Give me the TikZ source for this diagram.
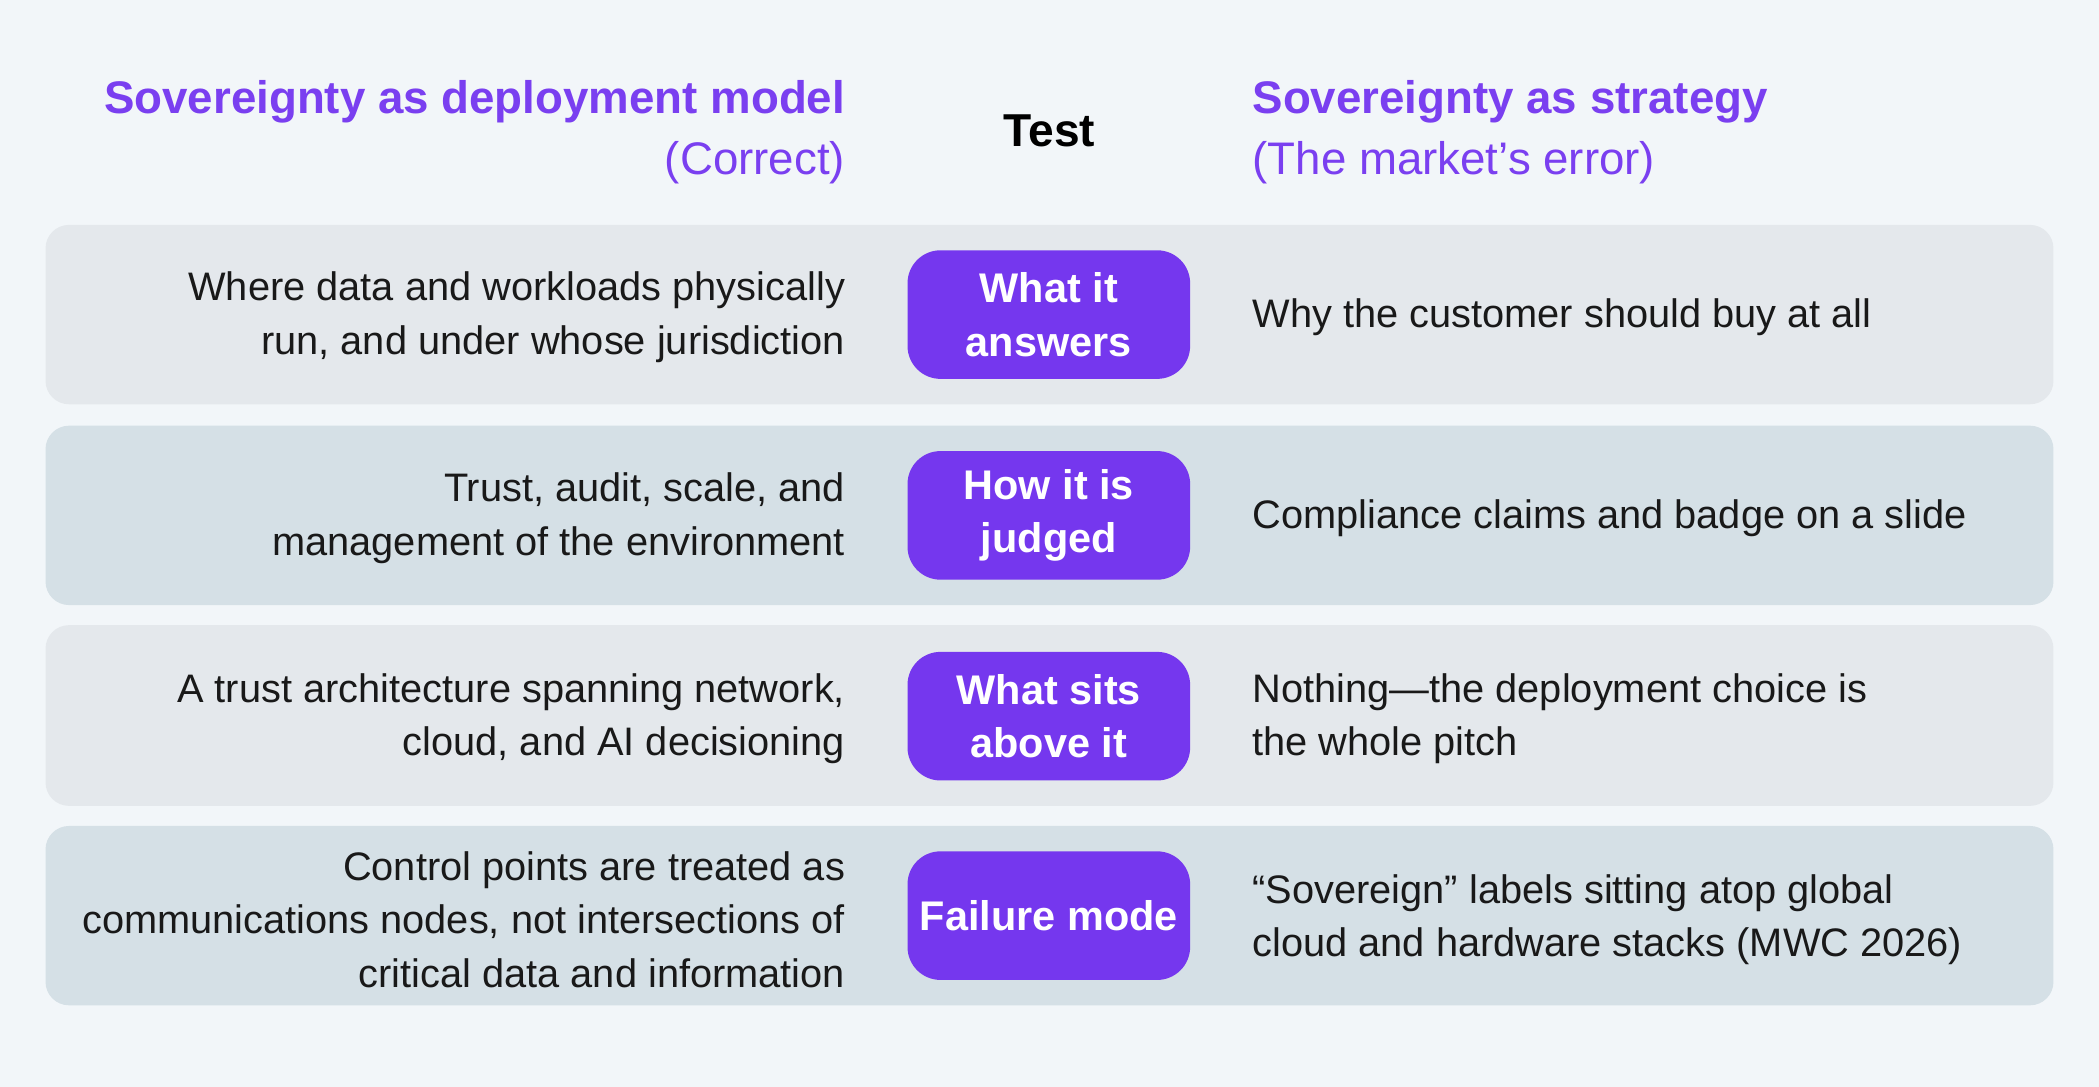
\documentclass[tikz,border=0pt]{standalone}
\usepackage{fontspec}
\setmainfont{Liberation Sans}
\definecolor{pagebg}{HTML}{F2F6F9}
\definecolor{rowlight}{HTML}{E4E8EC}
\definecolor{rowdark}{HTML}{D5E0E6}
\definecolor{violet}{HTML}{7537EE}
\definecolor{headviolet}{HTML}{7A3FF0}
\tikzset{
  row/.style={rounded corners=5pt},
  testbox/.style={fill=violet, rounded corners=7pt, minimum width=2.11cm, minimum height=0.96cm,
    text=white, font=\fontsize{8.8}{11.4}\selectfont\bfseries, align=center},
  lefttxt/.style={anchor=east, align=right, font=\fontsize{8.45}{11.4}\selectfont, text=black!90},
  righttxt/.style={anchor=west, align=left, font=\fontsize{8.45}{11.4}\selectfont, text=black!90},
  head/.style={font=\fontsize{9.7}{13}\selectfont, text=headviolet}
}
\begin{document}
\begin{tikzpicture}[x=0.01cm, y=-0.01cm, inner sep=0pt]
  % fond
  \fill[pagebg] (0,0) rectangle (1568,812);
  \useasboundingbox (0,0) rectangle (1568,812);

  % titres
  \node[head, anchor=east, align=right] (hleft) at (632,99)
    {\textbf{Sovereignty as deployment model}\\(Correct)};
  \node[font=\fontsize{9.8}{12}\selectfont\bfseries] (htest) at (784,98) {Test};
  \node[head, anchor=west, align=left] (hright) at (935,99)
    {\textbf{Sovereignty as strategy}\\(The market's error)};

  % lignes
  \fill[row, rowlight] (34,168) rectangle (1534,302);
  \fill[row, rowdark]  (34,318) rectangle (1534,452);
  \fill[row, rowlight] (34,467) rectangle (1534,602);
  \fill[row, rowdark]  (34,617) rectangle (1534,751);

  % ligne 1
  \node[lefttxt] (l1) at (632,237) {Where data and workloads physically\\run, and under whose jurisdiction};
  \node[testbox] (t1) at (783.5,235) {What it\\answers};
  \node[righttxt] (r1) at (935,237) {Why the customer should buy at all};

  % ligne 2
  \node[lefttxt] (l2) at (632,387) {Trust, audit, scale, and\\management of the environment};
  \node[testbox] (t2) at (783.5,385) {How it is\\judged};
  \node[righttxt] (r2) at (935,387) {Compliance claims and badge on a slide};

  % ligne 3
  \node[lefttxt] (l3) at (632,537) {A trust architecture spanning network,\\cloud, and AI decisioning};
  \node[testbox] (t3) at (783.5,535) {What sits\\above it};
  \node[righttxt] (r3) at (935,537) {Nothing---the deployment choice is\\the whole pitch};

  % ligne 4
  \node[lefttxt] (l4) at (632,687) {Control points are treated as\\communications nodes, not intersections of\\critical data and information};
  \node[testbox] (t4) at (783.5,684) {Failure mode};
  \node[righttxt] (r4) at (935,687) {“Sovereign” labels sitting atop global\\cloud and hardware stacks (MWC 2026)};
\end{tikzpicture}
\end{document}
